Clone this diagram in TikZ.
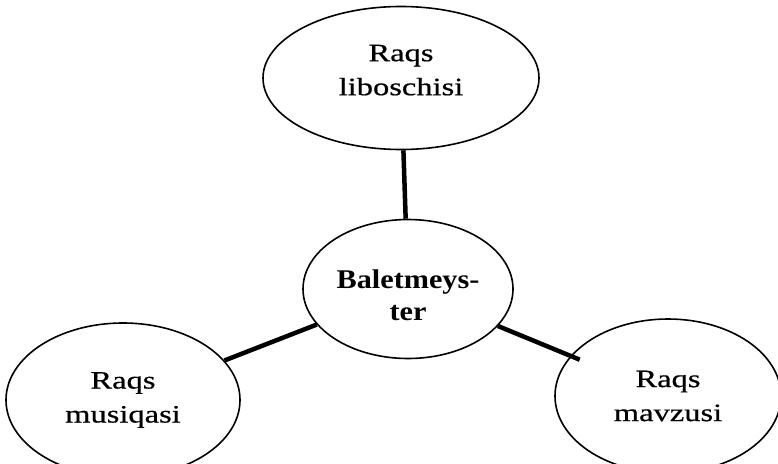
\documentclass[tikz,border=0pt]{standalone}
\usepackage{fontspec}
\setmainfont{Liberation Serif}
\newfontfamily\wideserif[FakeStretch=1.3, FakeBold=0.6]{Liberation Serif}
\newfontfamily\widebold[FakeStretch=1.12]{Liberation Serif Bold}
\usetikzlibrary{shapes.geometric}

\tikzset{
  bubble/.style={draw, ellipse, line width=1.6pt, inner sep=0pt, align=center,
    font=\wideserif\fontsize{25}{34}\selectfont},
  link/.style={line width=4.5pt}
}

\begin{document}
\begin{tikzpicture}[x=1pt, y=-1pt]
        \useasboundingbox (0,0) rectangle (778,463);
        \node[bubble, minimum width=276pt, minimum height=143pt, text depth=16pt] (costume) at (401,78) {Raqs\\liboschisi};
        \node[bubble, minimum width=210pt, minimum height=139pt, text height=63pt, font=\widebold\fontsize{27}{32}\selectfont] (ballet) at (408,289) {Baletmeys-\\ter};
        \node[bubble, minimum width=234pt, minimum height=154pt] (music) at (123,400) {Raqs\\musiqasi};
        \node[bubble, minimum width=226pt, minimum height=154pt] (theme) at (668,396) {Raqs\\mavzusi};
        \draw[link] (costume) -- (ballet);
        \draw[link] (ballet) -- (music);
        \draw[link, shorten >=-10pt] (ballet) -- (theme);
    \end{tikzpicture}
\end{document}
